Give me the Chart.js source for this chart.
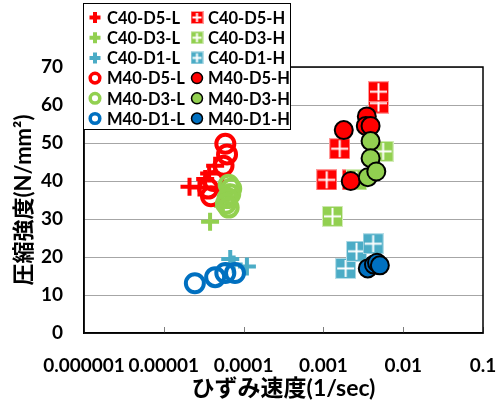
<!DOCTYPE html>
<html>
<head>
<meta charset="utf-8">
<script src="https://cdn.jsdelivr.net/npm/chart.js@4/dist/chart.umd.min.js"></script>
<style>
    html, body { margin: 0; padding: 0; background: #fff; }
    #wrap { width: 496px; height: 401px; position: relative; }
</style>
</head>
<body>
<div id="wrap"><canvas id="chart_strength"></canvas></div>
<script>
const xTicks = [0.000001, 0.00001, 0.0001, 0.001, 0.01, 0.1];
const xTickLabels = ['0.000001', '0.00001', '0.0001', '0.001', '0.01', '0.1'];
const yTicks = [0, 10, 20, 30, 40, 50, 60, 70];
const xTitle = 'ひずみ速度(1/sec)';
const yTitle = '圧縮強度(N/mm²)';

const seriesNames = ['C40-D5-L', 'C40-D5-H', 'C40-D3-L', 'C40-D3-H', 'C40-D1-L', 'C40-D1-H',
                     'M40-D5-L', 'M40-D5-H', 'M40-D3-L', 'M40-D3-H', 'M40-D1-L', 'M40-D1-H'];

// [strain rate, strength]
const c40d5L = [[2.1e-5, 38.5], [2.8e-5, 38.3], [3.3e-5, 40.5], [3.7e-5, 42], [4.4e-5, 44]];
const c40d5H = [[1.1e-3, 40.3], [1.6e-3, 48.5], [2.3e-3, 40.3], [4.9e-3, 60.5], [4.9e-3, 63.5]];
const c40d3L = [[3.8e-5, 29.3], [5.5e-5, 33.5], [6.5e-5, 37]];
const c40d3H = [[1.3e-3, 30.7], [2.6e-3, 40.3], [5.6e-3, 47.8]];
const c40d1L = [[6.8e-5, 19.5], [7.5e-5, 18], [1.1e-4, 17.5]];
const c40d1H = [[1.9e-3, 17], [2.6e-3, 21.5], [4.2e-3, 23.5]];
const m40d5L = [[5.9e-5, 49.8], [6.2e-5, 47], [5.6e-5, 44], [4.2e-5, 40], [3.6e-5, 38], [3.9e-5, 36]];
const m40d5H = [[1.8e-3, 53.4], [2.2e-3, 40], [3.5e-3, 57], [3.4e-3, 54.5], [3.9e-3, 54.5]];
const m40d3L = [[6.5e-5, 39], [7e-5, 38], [6.8e-5, 36.5], [6.3e-5, 35.5], [6e-5, 34], [6.5e-5, 33]];
const m40d3H = [[3.9e-3, 50.5], [3.9e-3, 46], [3.6e-3, 41], [4.6e-3, 42.5]];
const m40d1L = [[2.45e-5, 13.1], [4.4e-5, 14.7], [5.9e-5, 15.8], [7.8e-5, 15.8]];
const m40d1H = [[3.6e-3, 17], [4.3e-3, 18], [4.7e-3, 18.5], [5.1e-3, 17.8]];

const seriesData = [c40d5L, c40d5H, c40d3L, c40d3H, c40d1L, c40d1H,
                    m40d5L, m40d5H, m40d3L, m40d3H, m40d1L, m40d1H];

const RED = '#ff0000', GREEN = '#92d050', LBLUE = '#4bacc6', BLUE = '#0070c0';
const seriesColours = [RED, RED, GREEN, GREEN, LBLUE, LBLUE, RED, RED, GREEN, GREEN, BLUE, BLUE];

function makeSquare(colour, size) {
    const c = document.createElement('canvas');
    c.width = size;
    c.height = size;
    const g = c.getContext('2d');
    g.fillStyle = colour;
    g.fillRect(0, 0, size, size);
    g.strokeStyle = 'rgba(255,255,255,0.6)';
    g.lineWidth = 1;
    g.strokeRect(0.5, 0.5, size - 1, size - 1);
    g.strokeStyle = '#fff';
    g.lineWidth = 2;
    g.beginPath();
    g.moveTo(size / 2, 2);
    g.lineTo(size / 2, size - 2);
    g.moveTo(2, size / 2);
    g.lineTo(size - 2, size / 2);
    g.stroke();
    return c;
}

function seriesKind(name) {
    if (name[0] === 'C') return name.endsWith('L') ? 'cross' : 'square';
    return name.endsWith('L') ? 'ring' : 'dot';
}

const datasets = seriesNames.map((name, i) => {
    const kind = seriesKind(name);
    const colour = seriesColours[i];
    const ds = {
        label: name,
        data: seriesData[i].map((p) => ({x: p[0], y: p[1]})),
        order: seriesNames.length - i,
        showLine: false
    };
    if (kind === 'cross') {
        Object.assign(ds, {pointStyle: 'cross', pointRadius: 9, pointBorderWidth: 4,
            pointBorderColor: colour, pointBackgroundColor: colour});
    } else if (kind === 'square') {
        Object.assign(ds, {pointStyle: makeSquare(colour, 21), pointRadius: 10});
    } else if (kind === 'ring') {
        Object.assign(ds, {pointStyle: 'circle', pointRadius: 9, pointBorderWidth: 4,
            pointBorderColor: colour, pointBackgroundColor: 'rgba(0,0,0,0)'});
    } else {
        Object.assign(ds, {pointStyle: 'circle', pointRadius: 9, pointBorderWidth: 2,
            pointBorderColor: '#000', pointBackgroundColor: colour});
    }
    ds.kind = kind;
    ds.colour = colour;
    return ds;
});

const plotFrame = {
    id: 'plotFrame',
    afterDraw(chart) {
        const {ctx, chartArea: a} = chart;
        const xs = chart.scales.x;
        ctx.save();
        ctx.strokeStyle = '#7f7f7f';
        ctx.lineWidth = 1;
        ctx.beginPath();
        xTicks.forEach((v) => {
            const px = Math.round(xs.getPixelForValue(v)) + 0.5;
            ctx.moveTo(px, a.bottom);
            ctx.lineTo(px, a.bottom - 6);
        });
        ctx.stroke();
        ctx.strokeStyle = '#000';
        ctx.lineWidth = 1.5;
        ctx.strokeRect(a.left, a.top, a.right - a.left, a.bottom - a.top);
        ctx.restore();
    }
};

const boxLegend = {
    id: 'boxLegend',
    afterDraw(chart) {
        const ctx = chart.ctx;
        ctx.save();
        ctx.fillStyle = '#fff';
        ctx.fillRect(83, 3, 207, 126);
        ctx.strokeStyle = '#000';
        ctx.lineWidth = 1;
        ctx.strokeRect(83.5, 3.5, 207, 126);
        chart.data.datasets.forEach((ds, i) => {
            const col = i % 2;
            const row = Math.floor(i / 2);
            const mx = col ? 197 : 95;
            const tx = col ? 208 : 107;
            const y = 17.5 + row * 20.2;
            ctx.lineWidth = 1;
            if (ds.kind === 'cross') {
                ctx.strokeStyle = ds.colour;
                ctx.lineWidth = 4;
                ctx.beginPath();
                ctx.moveTo(mx - 5.5, y); ctx.lineTo(mx + 5.5, y);
                ctx.moveTo(mx, y - 5.5); ctx.lineTo(mx, y + 5.5);
                ctx.stroke();
            } else if (ds.kind === 'square') {
                ctx.drawImage(makeSquare(ds.colour, 13), mx - 6.5, y - 6.5);
            } else if (ds.kind === 'ring') {
                ctx.strokeStyle = ds.colour;
                ctx.lineWidth = 3.5;
                ctx.beginPath();
                ctx.arc(mx, y, 4.8, 0, Math.PI * 2);
                ctx.stroke();
            } else {
                ctx.fillStyle = ds.colour;
                ctx.strokeStyle = '#000';
                ctx.lineWidth = 1.5;
                ctx.beginPath();
                ctx.arc(mx, y, 5.5, 0, Math.PI * 2);
                ctx.fill();
                ctx.stroke();
            }
            ctx.fillStyle = '#000';
            ctx.font = 'bold 16.5px Lato';
            ctx.textBaseline = 'middle';
            ctx.textAlign = 'left';
            ctx.fillText(ds.label, tx, y + 1);
        });
        ctx.restore();
    }
};

Chart.defaults.font.family = 'Lato';
Chart.defaults.font.weight = 'bold';
Chart.defaults.color = '#000';

const titleFont = "Lato, 'Noto Sans CJK JP'";

const chart_strength = document.getElementById('chart_strength').getContext('2d');
const myChart = new Chart(chart_strength, {
    type: 'scatter',
    data: {datasets: datasets},
    options: {
        responsive: true,
        maintainAspectRatio: false,
        animation: false,
        layout: {
            padding: {top: 67, right: 13, bottom: 0, left: 0}
        },
        plugins: {
            legend: {display: false},
            tooltip: {enabled: false}
        },
        scales: {
            x: {
                type: 'logarithmic',
                min: xTicks[0],
                max: xTicks[xTicks.length - 1],
                afterBuildTicks: (axis) => { axis.ticks = xTicks.map((v) => ({value: v})); },
                afterFit: (axis) => {
                    axis.height = 68;
                    axis.paddingLeft = 0;
                    axis.paddingRight = 0;
                },
                grid: {drawOnChartArea: false, drawTicks: false},
                border: {display: true, color: '#000', width: 1.5},
                ticks: {
                    autoSkip: false,
                    maxRotation: 0,
                    padding: 21,
                    font: {size: 19, weight: 'bold'},
                    callback: (value, index) => xTickLabels[index]
                },
                title: {
                    display: true,
                    text: xTitle,
                    padding: {top: 0, bottom: 0},
                    font: {family: titleFont, size: 23, weight: 'bold', lineHeight: 1.05}
                }
            },
            y: {
                min: yTicks[0],
                max: yTicks[yTicks.length - 1],
                afterBuildTicks: (axis) => { axis.ticks = yTicks.map((v) => ({value: v})); },
                afterFit: (axis) => { axis.width = 84; },
                grid: {color: '#a6a6a6', lineWidth: 1, drawTicks: false},
                border: {display: true, color: '#000', width: 1.5},
                ticks: {
                    padding: 21,
                    font: {size: 19, weight: 'bold'},
                    callback: (value) => String(value)
                },
                title: {
                    display: true,
                    text: yTitle,
                    padding: {top: 11, bottom: 0},
                    font: {family: titleFont, size: 22, weight: 'bold'}
                }
            }
        }
    },
    plugins: [plotFrame, boxLegend]
});
</script>
</body>
</html>
